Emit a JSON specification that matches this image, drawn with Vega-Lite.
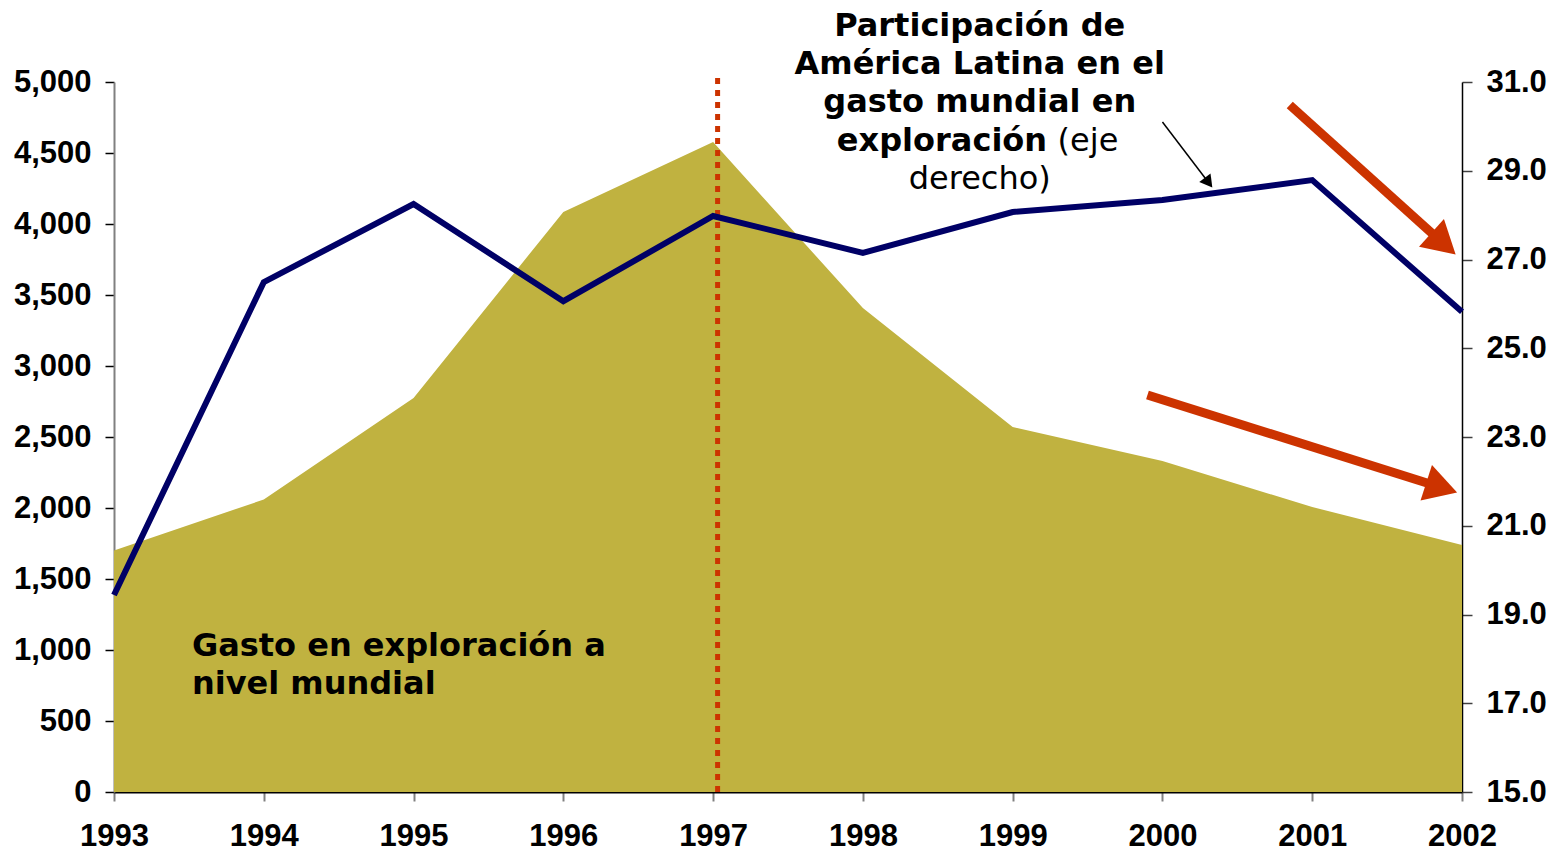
{
  "$schema": "https://vega.github.io/schema/vega-lite/v6.json",
  "width": 1348,
  "height": 710,
  "autosize": {"type": "none"},
  "padding": {"left": 114, "top": 82, "right": 90, "bottom": 59},
  "background": "white",
  "config": {"view": {"stroke": null}},
  "datasets": {
    "series": [
      {"year": 1993, "gasto": 1700, "part": 19.44},
      {"year": 1994, "gasto": 2060, "part": 26.49},
      {"year": 1995, "gasto": 2775, "part": 28.25},
      {"year": 1996, "gasto": 4085, "part": 26.06},
      {"year": 1997, "gasto": 4577, "part": 27.98},
      {"year": 1998, "gasto": 3408, "part": 27.15},
      {"year": 1999, "gasto": 2570, "part": 28.07},
      {"year": 2000, "gasto": 2331, "part": 28.34},
      {"year": 2001, "gasto": 2007, "part": 28.79},
      {"year": 2002, "gasto": 1739, "part": 25.82}
    ],
    "vline": [{"year": 1997.03, "y0": 0, "y1": 5049}],
    "arrows": [
      {"id": "r1", "x0": 2000.85, "y0": 4838, "x1": 2001.85, "y1": 3887},
      {"id": "r2", "x0": 1999.90, "y0": 2796, "x1": 2001.83, "y1": 2155},
      {"id": "k", "x0": 2000.00, "y0": 4718, "x1": 2000.30, "y1": 4303}
    ],
    "labels": [
      {"t": "Participación de", "x": 1998.78, "y": 5394, "g": "tb"},
      {"t": "América Latina en el", "x": 1998.78, "y": 5127, "g": "tb"},
      {"t": "gasto mundial en", "x": 1998.78, "y": 4859, "g": "tb"},
      {"t": "exploración", "x": 1999.23, "y": 4585, "g": "tbr"},
      {"t": "(eje", "x": 1999.30, "y": 4585, "g": "tnl"},
      {"t": "derecho)", "x": 1998.78, "y": 4317, "g": "tn"},
      {"t": "Gasto en exploración a", "x": 1993.52, "y": 1028, "g": "area"},
      {"t": "nivel mundial", "x": 1993.52, "y": 761, "g": "area"}
    ]
  },
  "layer": [
    {
      "layer": [
        {
          "data": {"name": "series"},
          "mark": {"type": "area", "color": "#C0B240", "opacity": 1},
          "encoding": {
            "x": {
              "field": "year", "type": "quantitative",
              "scale": {"domain": [1993, 2002], "nice": false, "zero": false},
              "axis": {
                "values": [1993, 1994, 1995, 1996, 1997, 1998, 1999, 2000, 2001, 2002],
                "format": "d", "title": null, "grid": false,
                "labelFont": "Liberation Sans", "labelFontWeight": "bold", "labelFontSize": 31,
                "labelColor": "black", "labelPadding": 20, "labelFlush": false, "labelOverlap": false,
                "tickColor": "#808080", "tickSize": 9, "tickWidth": 2,
                "domainColor": "black", "domainWidth": 2
              }
            },
            "y": {
              "field": "gasto", "type": "quantitative",
              "scale": {"domain": [0, 5000], "nice": false},
              "axis": {
                "values": [0, 500, 1000, 1500, 2000, 2500, 3000, 3500, 4000, 4500, 5000],
                "format": ",", "labelExpr": "format(datum.value, ',')", "title": null, "grid": false,
                "labelFont": "Liberation Sans", "labelFontWeight": "bold", "labelFontSize": 31,
                "labelColor": "black", "labelPadding": 14, "labelFlush": false, "labelOverlap": false,
                "tickColor": "black", "tickSize": 9, "tickWidth": 1.5,
                "domainColor": "#808080", "domainWidth": 2
              }
            }
          }
        },
        {
          "data": {"name": "vline"},
          "mark": {"type": "rule", "color": "#CC3300", "strokeWidth": 5, "strokeDash": [6, 6]},
          "encoding": {
            "x": {"field": "year", "type": "quantitative", "axis": {"title": null, "format": "d"}},
            "y": {"field": "y0", "type": "quantitative", "axis": {"title": null, "format": ","}},
            "y2": {"field": "y1"}
          }
        },
        {
          "data": {"name": "arrows"},
          "transform": [{"filter": "datum.id !== 'k'"}],
          "mark": {"type": "rule", "color": "#CC3300", "strokeWidth": 9},
          "encoding": {
            "x": {"field": "x0", "type": "quantitative", "axis": {"title": null, "format": "d"}},
            "y": {"field": "y0", "type": "quantitative", "axis": {"title": null, "format": ","}},
            "x2": {"field": "x1"},
            "y2": {"field": "y1"}
          }
        },
        {
          "data": {"name": "arrows"},
          "transform": [{"filter": "datum.id === 'k'"}],
          "mark": {"type": "rule", "color": "black", "strokeWidth": 1.5},
          "encoding": {
            "x": {"field": "x0", "type": "quantitative", "axis": {"title": null, "format": "d"}},
            "y": {"field": "y0", "type": "quantitative", "axis": {"title": null, "format": ","}},
            "x2": {"field": "x1"},
            "y2": {"field": "y1"}
          }
        },
        {
          "data": {"name": "arrows"},
          "transform": [{"filter": "datum.id === 'r1'"}],
          "mark": {"type": "point", "shape": "triangle", "filled": true, "color": "#CC3300", "opacity": 1, "size": 1400, "angle": 131.8},
          "encoding": {
            "x": {"field": "x1", "type": "quantitative", "axis": {"title": null, "format": "d"}},
            "y": {"field": "y1", "type": "quantitative", "axis": {"title": null, "format": ","}}
          }
        },
        {
          "data": {"name": "arrows"},
          "transform": [{"filter": "datum.id === 'r2'"}],
          "mark": {"type": "point", "shape": "triangle", "filled": true, "color": "#CC3300", "opacity": 1, "size": 1400, "angle": 107.8},
          "encoding": {
            "x": {"field": "x1", "type": "quantitative", "axis": {"title": null, "format": "d"}},
            "y": {"field": "y1", "type": "quantitative", "axis": {"title": null, "format": ","}}
          }
        },
        {
          "data": {"name": "arrows"},
          "transform": [{"filter": "datum.id === 'k'"}],
          "mark": {"type": "point", "shape": "triangle", "filled": true, "color": "black", "opacity": 1, "size": 200, "angle": 142.6},
          "encoding": {
            "x": {"field": "x1", "type": "quantitative", "axis": {"title": null, "format": "d"}},
            "y": {"field": "y1", "type": "quantitative", "axis": {"title": null, "format": ","}}
          }
        },
        {
          "data": {"name": "labels"},
          "transform": [{"filter": "datum.g === 'tb'"}],
          "mark": {"type": "text", "font": "DejaVu Sans", "fontWeight": "bold", "fontSize": 32, "align": "center", "baseline": "middle", "color": "black"},
          "encoding": {
            "x": {"field": "x", "type": "quantitative", "axis": {"title": null, "format": "d"}},
            "y": {"field": "y", "type": "quantitative", "axis": {"title": null, "format": ","}},
            "text": {"field": "t"}
          }
        },
        {
          "data": {"name": "labels"},
          "transform": [{"filter": "datum.g === 'tn'"}],
          "mark": {"type": "text", "font": "DejaVu Sans", "fontWeight": "normal", "fontSize": 32, "align": "center", "baseline": "middle", "color": "black"},
          "encoding": {
            "x": {"field": "x", "type": "quantitative", "axis": {"title": null, "format": "d"}},
            "y": {"field": "y", "type": "quantitative", "axis": {"title": null, "format": ","}},
            "text": {"field": "t"}
          }
        },
        {
          "data": {"name": "labels"},
          "transform": [{"filter": "datum.g === 'tbr'"}],
          "mark": {"type": "text", "font": "DejaVu Sans", "fontWeight": "bold", "fontSize": 32, "align": "right", "baseline": "middle", "color": "black"},
          "encoding": {
            "x": {"field": "x", "type": "quantitative", "axis": {"title": null, "format": "d"}},
            "y": {"field": "y", "type": "quantitative", "axis": {"title": null, "format": ","}},
            "text": {"field": "t"}
          }
        },
        {
          "data": {"name": "labels"},
          "transform": [{"filter": "datum.g === 'tnl'"}],
          "mark": {"type": "text", "font": "DejaVu Sans", "fontWeight": "normal", "fontSize": 32, "align": "left", "baseline": "middle", "color": "black"},
          "encoding": {
            "x": {"field": "x", "type": "quantitative", "axis": {"title": null, "format": "d"}},
            "y": {"field": "y", "type": "quantitative", "axis": {"title": null, "format": ","}},
            "text": {"field": "t"}
          }
        },
        {
          "data": {"name": "labels"},
          "transform": [{"filter": "datum.g === 'area'"}],
          "mark": {"type": "text", "font": "DejaVu Sans", "fontWeight": "bold", "fontSize": 32, "align": "left", "baseline": "middle", "color": "black"},
          "encoding": {
            "x": {"field": "x", "type": "quantitative", "axis": {"title": null, "format": "d"}},
            "y": {"field": "y", "type": "quantitative", "axis": {"title": null, "format": ","}},
            "text": {"field": "t"}
          }
        }
      ]
    },
    {
      "data": {"name": "series"},
      "mark": {"type": "line", "color": "#000066", "strokeWidth": 6, "strokeJoin": "miter"},
      "encoding": {
        "x": {"field": "year", "type": "quantitative", "axis": {"title": null, "format": "d"}},
        "y": {
          "field": "part", "type": "quantitative",
          "scale": {"domain": [15, 31], "nice": false, "zero": false},
          "axis": {
            "orient": "right",
            "values": [15, 17, 19, 21, 23, 25, 27, 29, 31],
            "format": ".1f", "title": null, "grid": false,
            "labelFont": "Liberation Sans", "labelFontWeight": "bold", "labelFontSize": 31,
            "labelColor": "black", "labelPadding": 14, "labelFlush": false, "labelOverlap": false,
            "tickColor": "#404040", "tickSize": 10, "tickWidth": 1.5,
            "domainColor": "black", "domainWidth": 1.5
          }
        }
      }
    }
  ],
  "resolve": {"scale": {"y": "independent"}}
}
